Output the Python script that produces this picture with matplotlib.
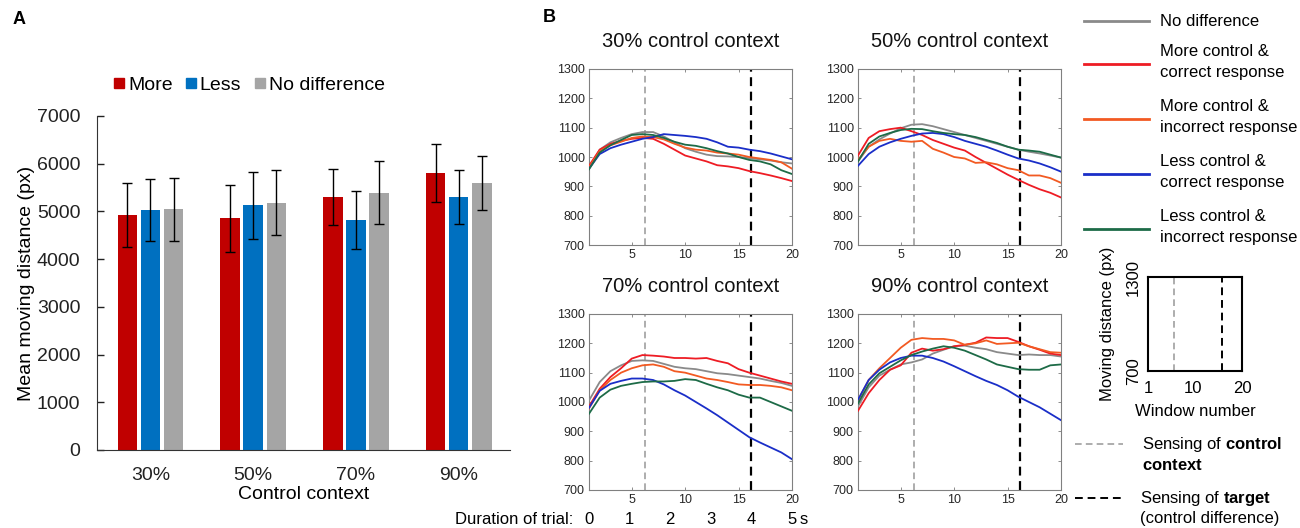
import matplotlib
matplotlib.use('Agg')
import matplotlib.pyplot as plt
import numpy as np
from matplotlib.lines import Line2D
from matplotlib.transforms import blended_transform_factory

plt.rcParams['font.family'] = ['Liberation Sans', 'DejaVu Sans']
plt.rcParams['mathtext.fontset'] = 'custom'
plt.rcParams['mathtext.rm'] = 'Liberation Sans'
plt.rcParams['mathtext.bf'] = 'Liberation Sans:bold'

# ---------------- Panel A data ----------------
contexts = ['30%', '50%', '70%', '90%']
bar_labels = ['More', 'Less', 'No difference']
more_mean = [4925, 4860, 5300, 5810]
less_mean = [5030, 5130, 4820, 5300]
nodiff_mean = [5050, 5180, 5390, 5600]
more_err = [670, 700, 590, 610]
less_err = [650, 700, 610, 570]
nodiff_err = [660, 680, 660, 570]
bar_colors = ['#C00000', '#0070C0', '#A5A5A5']

# ---------------- Panel B data ----------------
windows = list(range(1, 21))
panel_titles = ['30% control context', '50% control context',
                '70% control context', '90% control context']
line_labels = ['No difference', 'More control &\ncorrect response',
               'More control &\nincorrect response', 'Less control &\ncorrect response',
               'Less control &\nincorrect response']
line_colors = ['#8a8a8a', '#ee1c24', '#f25a22', '#1a2ec8', '#1d6b47']

nodiff_30 = [962, 1025, 1050, 1065, 1078, 1085, 1085, 1070, 1050, 1030, 1018, 1008, 1003, 1002, 1000, 996, 992, 988, 982, 978]
morecor_30 = [970, 1025, 1045, 1055, 1062, 1065, 1062, 1045, 1025, 1005, 995, 985, 972, 968, 962, 952, 945, 937, 928, 918]
moreinc_30 = [965, 1020, 1040, 1052, 1065, 1070, 1068, 1060, 1045, 1032, 1025, 1022, 1015, 1012, 1008, 1000, 995, 990, 982, 960]
lesscor_30 = [960, 1010, 1030, 1042, 1052, 1062, 1068, 1078, 1075, 1072, 1068, 1062, 1050, 1035, 1032, 1025, 1020, 1012, 1002, 992]
lessinc_30 = [958, 1015, 1040, 1058, 1075, 1078, 1075, 1065, 1052, 1042, 1038, 1030, 1020, 1012, 1000, 990, 985, 975, 955, 942]

nodiff_50 = [985, 1035, 1060, 1080, 1098, 1110, 1112, 1105, 1095, 1085, 1075, 1065, 1055, 1045, 1035, 1025, 1018, 1012, 1005, 998]
morecor_50 = [1005, 1065, 1088, 1095, 1100, 1088, 1075, 1058, 1045, 1032, 1022, 1000, 980, 960, 940, 922, 905, 890, 878, 862]
moreinc_50 = [990, 1035, 1055, 1062, 1055, 1052, 1055, 1028, 1015, 1000, 995, 980, 982, 975, 962, 955, 937, 937, 928, 912]
lesscor_50 = [970, 1010, 1035, 1050, 1062, 1072, 1080, 1082, 1078, 1068, 1055, 1045, 1035, 1022, 1008, 995, 988, 978, 965, 950]
lessinc_50 = [985, 1045, 1070, 1082, 1092, 1096, 1095, 1088, 1082, 1078, 1075, 1068, 1058, 1048, 1035, 1025, 1022, 1018, 1008, 998]

nodiff_70 = [1005, 1068, 1105, 1125, 1140, 1142, 1140, 1130, 1120, 1115, 1112, 1105, 1098, 1095, 1090, 1085, 1080, 1072, 1065, 1055]
morecor_70 = [985, 1045, 1085, 1115, 1148, 1160, 1158, 1155, 1150, 1150, 1148, 1150, 1140, 1132, 1112, 1100, 1090, 1080, 1070, 1062]
moreinc_70 = [978, 1040, 1075, 1100, 1115, 1125, 1128, 1120, 1105, 1100, 1090, 1080, 1075, 1068, 1060, 1058, 1058, 1055, 1050, 1040]
lesscor_70 = [980, 1038, 1062, 1072, 1080, 1080, 1075, 1060, 1040, 1022, 1000, 978, 955, 930, 905, 880, 862, 845, 828, 805]
lessinc_70 = [960, 1015, 1042, 1055, 1062, 1068, 1070, 1070, 1072, 1078, 1075, 1062, 1050, 1040, 1025, 1015, 1015, 1000, 985, 970]

nodiff_90 = [985, 1050, 1090, 1110, 1128, 1135, 1145, 1165, 1178, 1190, 1192, 1185, 1180, 1170, 1165, 1160, 1162, 1160, 1160, 1155]
morecor_90 = [970, 1030, 1075, 1110, 1125, 1168, 1182, 1175, 1180, 1190, 1195, 1202, 1220, 1218, 1218, 1205, 1190, 1178, 1165, 1160]
moreinc_90 = [1005, 1075, 1115, 1150, 1185, 1212, 1218, 1215, 1215, 1210, 1195, 1200, 1210, 1198, 1200, 1202, 1190, 1180, 1170, 1168]
lesscor_90 = [1008, 1075, 1110, 1135, 1150, 1158, 1158, 1150, 1138, 1122, 1105, 1088, 1072, 1058, 1040, 1018, 1000, 982, 960, 938]
lessinc_90 = [995, 1060, 1098, 1120, 1142, 1160, 1172, 1182, 1190, 1185, 1175, 1160, 1145, 1128, 1120, 1112, 1110, 1110, 1125, 1128]

context_sense_window = 6.25
target_sense_window = 16.2
duration_labels = ['0', '1', '2', '3', '4', '5']

panel_data = [
    [nodiff_30, morecor_30, moreinc_30, lesscor_30, lessinc_30],
    [nodiff_50, morecor_50, moreinc_50, lesscor_50, lessinc_50],
    [nodiff_70, morecor_70, moreinc_70, lesscor_70, lessinc_70],
    [nodiff_90, morecor_90, moreinc_90, lesscor_90, lessinc_90],
]

W, H = 1300, 528
fig = plt.figure(figsize=(W / 100, H / 100), dpi=100)


def fx(px):
    return px / W


def fy(py):
    return 1 - py / H


# ---------------- Panel A ----------------
axA = fig.add_axes([fx(97), fy(450), fx(510) - fx(97), fy(116) - fy(450)])
x = np.arange(len(contexts))
offs = [-0.225, 0.0, 0.225]
means = [more_mean, less_mean, nodiff_mean]
errs = [more_err, less_err, nodiff_err]
for i in range(3):
    axA.bar(x + offs[i], means[i], width=0.19, color=bar_colors[i], label=bar_labels[i],
            yerr=errs[i], capsize=3.5,
            error_kw=dict(ecolor='black', elinewidth=1.0, capthick=1.0), zorder=2)
axA.set_xlim(-0.52, 3.5)
axA.set_ylim(0, 7000)
axA.set_yticks(range(0, 7001, 1000))
axA.set_xticks(x)
axA.set_xticklabels(contexts, fontsize=14)
axA.tick_params(axis='y', direction='in', length=5, width=1, labelsize=14, pad=12, colors='#222222')
axA.tick_params(axis='x', length=0, pad=12, colors='#222222')
for s in ['top', 'right']:
    axA.spines[s].set_visible(False)
axA.spines['left'].set_color('#333333')
axA.spines['bottom'].set_color('#333333')
axA.set_ylabel('Mean moving distance (px)', fontsize=14, labelpad=1)
axA.set_xlabel('Control context', fontsize=14, labelpad=2)

handlesA = [Line2D([], [], marker='s', linestyle='none', markersize=6.5,
                   markerfacecolor=c, markeredgecolor=c) for c in bar_colors]
fig.legend(handlesA, bar_labels, loc='center', bbox_to_anchor=(fx(249), fy(85)),
           ncol=3, frameon=False, fontsize=14, handletextpad=0.15,
           columnspacing=0.65, handlelength=0.6, borderaxespad=0, borderpad=0)

fig.text(fx(13), fy(20), 'A', fontsize=13, fontweight='bold', va='center', ha='left')
fig.text(fx(543), fy(18), 'B', fontsize=13, fontweight='bold', va='center', ha='left')

# ---------------- Panel B ----------------
lefts = [589, 858, 589, 858]
bottoms = [245, 245, 490, 490]
axes_B = []
for k in range(4):
    ax = fig.add_axes([fx(lefts[k]), fy(bottoms[k]), fx(203), 176 / H])
    axes_B.append(ax)
    for j, series in enumerate(panel_data[k]):
        ax.plot(windows, series, color=line_colors[j], lw=1.3, zorder=3)
    ax.axvline(context_sense_window, color='#a0a0a0', lw=1.2, linestyle=(0, (4, 2.5)), zorder=2)
    ax.axvline(target_sense_window, color='black', lw=1.6, linestyle=(0, (4, 2.5)), zorder=2)
    ax.set_xlim(1, 20)
    ax.set_ylim(700, 1300)
    ax.set_xticks([5, 10, 15, 20])
    ax.set_yticks(range(700, 1301, 100))
    ax.tick_params(direction='in', length=2.5, width=0.6, labelsize=9, pad=3,
                   colors='#7a7a7a', labelcolor='#262626', top=True, right=True)
    for s in ax.spines.values():
        s.set_color('#808080')
        s.set_linewidth(0.8)
    ax.set_title(panel_titles[k], fontsize=14.5, pad=16, color='#111111')

# Duration of trial row under bottom-left panel
axbl = axes_B[2]
tr = blended_transform_factory(axbl.transData, fig.transFigure)
for i, lab in enumerate(duration_labels):
    axbl.text(1 + i * 19 / 5, fy(520), lab, transform=tr, ha='center', va='center',
              fontsize=12, clip_on=False)
axbl.text(20.75, fy(520), 's', transform=tr, ha='left', va='center', fontsize=12, clip_on=False)
fig.text(fx(573), fy(520), 'Duration of trial:', ha='right', va='center', fontsize=12)

# Right legend
leg_y_lines = [21, 64, 119, 174, 229]
leg_y_text = [21, 62, 117, 172, 227]
for j in range(5):
    fig.add_artist(Line2D([fx(1084), fx(1149)], [fy(leg_y_lines[j])] * 2,
                          transform=fig.transFigure, color=line_colors[j], lw=2))
    fig.text(fx(1160), fy(leg_y_text[j]), line_labels[j], ha='left', va='center',
             fontsize=12, linespacing=1.45)

# Inset schematic axes
axI = fig.add_axes([fx(1148), fy(371), fx(94), 94 / H])
axI.axvline(context_sense_window, color='#a0a0a0', lw=1.2, linestyle=(0, (4, 2.5)))
axI.axvline(target_sense_window - 0.2, color='black', lw=1.4, linestyle=(0, (4, 2.5)))
axI.set_xlim(1, 20)
axI.set_ylim(700, 1300)
axI.set_xticks([1, 10, 20])
axI.set_yticks([700, 1300])
axI.set_yticklabels(['700', '1300'], rotation=90, va='center')
axI.tick_params(axis='x', length=0, labelsize=12, pad=7)
axI.tick_params(axis='y', length=0, labelsize=12, pad=5)
for s in axI.spines.values():
    s.set_linewidth(1.5)
    s.set_color('black')
axI.set_xlabel('Window number', fontsize=12, labelpad=6)
axI.set_ylabel('Moving distance (px)', fontsize=12, labelpad=8)

# Dashed-line legend
fig.add_artist(Line2D([fx(1075), fx(1123)], [fy(444)] * 2, transform=fig.transFigure,
                      color='#a0a0a0', lw=1.2, linestyle=(0, (4, 2.5))))
fig.add_artist(Line2D([fx(1075), fx(1123)], [fy(498)] * 2, transform=fig.transFigure,
                      color='black', lw=1.4, linestyle=(0, (4, 2.5))))
fig.text(fx(1142), fy(445), r'Sensing of $\bf{control}$', ha='left', va='center', fontsize=12)
fig.text(fx(1142), fy(465), r'$\bf{context}$', ha='left', va='center', fontsize=12)
fig.text(fx(1140), fy(498), r'Sensing of $\bf{target}$', ha='left', va='center', fontsize=12)
fig.text(fx(1140), fy(518), '(control difference)', ha='left', va='center', fontsize=12)

fig.savefig('out.png', dpi=100)
